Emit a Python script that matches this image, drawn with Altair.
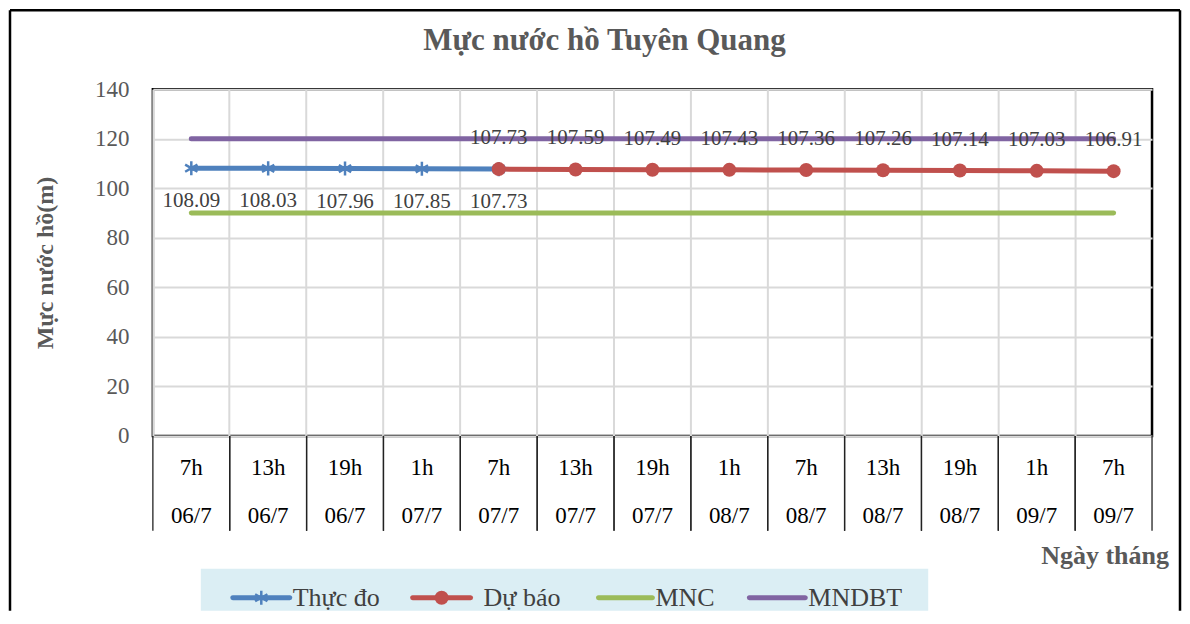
import altair as alt
import pandas as pd

# ---------------- data ----------------
hours = ["7h", "13h", "19h", "1h", "7h", "13h", "19h", "1h", "7h", "13h", "19h", "1h", "7h"]
dates = ["06/7", "06/7", "06/7", "07/7", "07/7", "07/7", "07/7", "08/7", "08/7", "08/7", "08/7", "09/7", "09/7"]
measured = [108.09, 108.03, 107.96, 107.85, 107.73]
forecast = [107.73, 107.59, 107.49, 107.43, 107.36, 107.26, 107.14, 107.03, 106.91]
mnc = [90, 90, 90, 90, 90, 90, 90, 90, 90, 90, 90, 90, 90]
mndbt = [120, 120, 120, 120, 120, 120, 120, 120, 120, 120, 120, 120, 120]
series_names = ["Thực đo", "Dự báo", "MNC", "MNDBT"]
y_ticks = [0, 20, 40, 60, 80, 100, 120, 140]

# ---------------- styles ----------------
SERIF = "'Liberation Serif', 'Times New Roman', serif"
GRAY = "#595959"
LBL = "#404040"
colors = {"Thực đo": "#4f81bd", "Dự báo": "#c0504d", "MNC": "#9bbb59", "MNDBT": "#8064a2"}
STAR = "M0,-1L0,1M-0.87,-0.5L0.87,0.5M-0.87,0.5L0.87,-0.5"
W, H = 1000, 347
BOTTOM = H + 175  # lowest drawn edge (legend box / frame), relative to plot top
RIGHT = 1028      # outer frame right edge, relative to plot left
LEFT, TOP = -143, -79

cats = [f"{h} {d}" for h, d in zip(hours, dates)]
df_cat = pd.DataFrame({"cat": cats, "hour": hours, "date": dates})
df_meas = pd.DataFrame({"cat": cats[:len(measured)], "value": measured})
df_fore = pd.DataFrame({"cat": cats[len(cats) - len(forecast):], "value": forecast})
df_mnc = pd.DataFrame({"cat": cats, "value": mnc})
df_mndbt = pd.DataFrame({"cat": cats, "value": mndbt})

xscale = alt.Scale(type="band", paddingInner=0, paddingOuter=0, domain=cats)
xaxis = alt.Axis(title="", labels=False, ticks=False, domain=False, grid=True,
                 bandPosition=0, gridColor="#d9d9d9", gridWidth=2)
X = alt.X("cat:N", sort=cats, scale=xscale, axis=xaxis)
Y = alt.Y("value:Q", scale=alt.Scale(domain=[0, 140]),
          axis=alt.Axis(values=y_ticks, title="Mực nước hồ(m)", titleFont=SERIF,
                        titleFontSize=24, titleFontWeight="bold", titleColor=GRAY,
                        titleX=-107, titleY=H / 2, titleAlign="center", titleBaseline="middle",
                        labelFont=SERIF, labelFontSize=23, labelColor=GRAY, labelPadding=24,
                        ticks=False, domain=False, grid=True, gridColor="#d9d9d9", gridWidth=2))

layers = []

def line(df, name):
    return alt.Chart(df).mark_line(color=colors[name], strokeWidth=5, strokeCap="round").encode(x=X, y=Y)

layers.append(line(df_mnc, "MNC"))
layers.append(line(df_mndbt, "MNDBT"))
layers.append(line(df_meas, "Thực đo"))
layers.append(line(df_fore, "Dự báo"))
layers.append(alt.Chart(df_meas).mark_point(shape=STAR, size=200, color=colors["Thực đo"],
                                             strokeWidth=2.5, filled=False, opacity=1).encode(x=X, y=Y))
layers.append(alt.Chart(df_fore).mark_point(shape="circle", size=196, color=colors["Dự báo"],
                                             filled=True, opacity=1).encode(x=X, y=Y))
layers.append(alt.Chart(df_meas).mark_text(dy=33, font=SERIF, fontSize=21, color=LBL).encode(
    x=X, y=Y, text=alt.Text("value:Q", format=".2f")))
layers.append(alt.Chart(df_fore).mark_text(dy=-31, font=SERIF, fontSize=21, color=LBL).encode(
    x=X, y=Y, text=alt.Text("value:Q", format=".2f")))

# ---------------- category table under the plot ----------------
for bp in (0, 1):
    layers.append(alt.Chart(df_cat).mark_rule(color="#222222", strokeWidth=1.3).encode(
        x=alt.X("cat:N", sort=cats, scale=xscale, axis=xaxis, bandPosition=bp),
        y=alt.value(H), y2=alt.value(H + 95)))
layers.append(alt.Chart(df_cat).mark_text(font=SERIF, fontSize=23, color="black").encode(
    x=X, y=alt.value(H + 32), text="hour:N"))
layers.append(alt.Chart(df_cat).mark_text(font=SERIF, fontSize=23, color="black").encode(
    x=X, y=alt.value(H + 80), text="date:N"))

# ---------------- texts ----------------
layers.append(alt.Chart(pd.DataFrame({"t": ["Mực nước hồ Tuyên Quang"]})).mark_text(
    font=SERIF, fontSize=31, fontWeight="bold", color=GRAY, baseline="middle").encode(
    x=alt.value(452), y=alt.value(-48), text="t:N"))
layers.append(alt.Chart(pd.DataFrame({"t": ["Ngày tháng"]})).mark_text(
    font=SERIF, fontSize=26, fontWeight="bold", color=GRAY, baseline="middle").encode(
    x=alt.value(953), y=alt.value(H + 120), text="t:N"))

# ---------------- legend ----------------
LEG_Y = H + 162
layers.append(alt.Chart(pd.DataFrame({"k": [0]})).mark_rect(color="#dbeef4").encode(
    x=alt.value(48), x2=alt.value(776), y=alt.value(H + 133), y2=alt.value(BOTTOM)))
leg_pos = {"Thực đo": (80, 137, 140), "Dự báo": (260, 318, 331),
           "MNC": (446, 500, 503), "MNDBT": (597, 653, 656)}
for name in series_names:
    x0, x1, xt = leg_pos[name]
    d = pd.DataFrame({"label": [name]})
    layers.append(alt.Chart(d).mark_rule(color=colors[name], strokeWidth=5, strokeCap="round").encode(
        x=alt.value(x0), x2=alt.value(x1), y=alt.value(LEG_Y)))
    if name == "Thực đo":
        layers.append(alt.Chart(d).mark_point(shape=STAR, size=200, color=colors[name], strokeWidth=2.5,
                                              filled=False, opacity=1).encode(
            x=alt.value((x0 + x1) / 2), y=alt.value(LEG_Y)))
    if name == "Dự báo":
        layers.append(alt.Chart(d).mark_point(shape="circle", size=196, color=colors[name],
                                              filled=True, opacity=1).encode(
            x=alt.value((x0 + x1) / 2), y=alt.value(LEG_Y)))
    layers.append(alt.Chart(d).mark_text(font=SERIF, fontSize=26, color=LBL, align="left",
                                         baseline="middle").encode(
        x=alt.value(xt), y=alt.value(LEG_Y), text="label:N"))

# ---------------- outer frame ----------------
frame = pd.DataFrame({"k": [0]})
layers.append(alt.Chart(frame).mark_rule(color="black", strokeWidth=2.5).encode(
    x=alt.value(LEFT), x2=alt.value(RIGHT), y=alt.value(TOP)))
layers.append(alt.Chart(frame).mark_rule(color="black", strokeWidth=2.5).encode(
    x=alt.value(LEFT), y=alt.value(TOP), y2=alt.value(BOTTOM)))
layers.append(alt.Chart(frame).mark_rule(color="black", strokeWidth=2.5).encode(
    x=alt.value(RIGHT), y=alt.value(TOP), y2=alt.value(BOTTOM)))

chart = alt.layer(*layers).properties(width=W, height=H, padding=0, background="white").configure_view(
    stroke="black", strokeWidth=2.5)

chart.save("out.html", embed_options={"renderer": "svg", "actions": False})
